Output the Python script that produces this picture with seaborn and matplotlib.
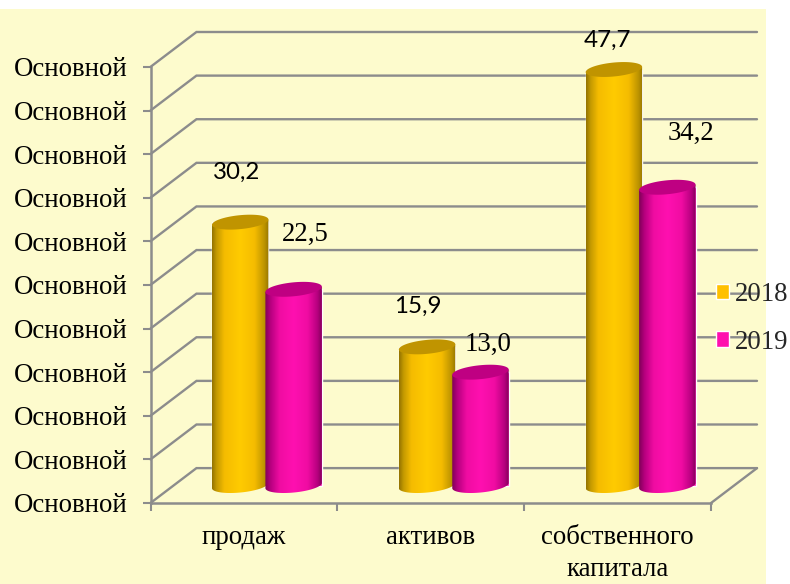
import numpy as np
import pandas as pd
import matplotlib
matplotlib.use("Agg")
import matplotlib.pyplot as plt
from matplotlib.colors import LinearSegmentedColormap
from matplotlib.patches import Polygon, Rectangle
import seaborn as sns

categories = ["продаж", "активов", "собственного\nкапитала"]
years = ["2018", "2019"]
values_2018 = [30.2, 15.9, 47.7]
values_2019 = [22.5, 13.0, 34.2]
labels_2018 = ["30,2", "15,9", "47,7"]
labels_2019 = ["22,5", "13,0", "34,2"]
tick_label = "Основной"
grid_values = list(range(0, 55, 5))

# pixel offsets of the value labels from the top of their bar
offsets_2018 = [(-4, 50), (-9, 41), (-6, 29)]
offsets_2019 = [(12, 55), (8, 28), (24, 54)]

# fake 3D depth, half of it in front of the bars, half behind
DX = 23 / 187
DY = 2.0
GRID = "#8c8c8c"
BG = "#fdfbcd"
FONT_SIZE = 19.3

sns.set_theme(style="white")
plt.rcParams["font.family"] = ["Liberation Serif", "DejaVu Sans"]

df = pd.DataFrame({
    "category": categories * 2,
    "year": [years[0]] * 3 + [years[1]] * 3,
    "value": values_2018 + values_2019,
})

fig = plt.figure(figsize=(7.9, 5.84), dpi=100, facecolor="white")
fig.patches.append(Rectangle((0, 0), 766 / 790, 575 / 584, transform=fig.transFigure,
                             facecolor=BG, edgecolor="none", zorder=-5))
ax = fig.add_axes([150.5 / 790, 81 / 584, 606.5 / 790, 471 / 584])
ax.patch.set_alpha(0)

sns.barplot(data=df, x="category", y="value", hue="year", order=categories,
            palette=["#ffc000", "#ff0fae"], width=0.572, gap=0, ax=ax, zorder=3,
            saturation=1)

# walls and floor
x_left = -0.5
x_right = 2.5
for v in grid_values:
    ax.plot([x_left - DX, x_left + DX, x_right + DX], [v - DY, v + DY, v + DY],
            color=GRID, lw=1.7, clip_on=False, zorder=1, solid_joinstyle="miter")
ax.plot([x_right - DX, x_right + DX], [-DY, DY], color=GRID, lw=1.7, clip_on=False, zorder=1)

cmaps = [
    LinearSegmentedColormap.from_list("gold", [(0, "#937300"), (0.08, "#c49a00"), (0.22, "#f5bc00"),
                                               (0.5, "#ffcb00"), (0.75, "#f5bc00"), (0.92, "#bd9400"),
                                               (1, "#977600")]),
    LinearSegmentedColormap.from_list("pink", [(0, "#800058"), (0.1, "#b80080"), (0.26, "#f00ca2"),
                                               (0.5, "#ff10b0"), (0.75, "#f00ca2"), (0.92, "#b80080"),
                                               (1, "#85005c")]),
]
cap_colors = ["#c09400", "#bf0082"]

t = np.linspace(0, 2 * np.pi, 100)
lower = np.linspace(np.pi, 2 * np.pi, 50)
ELL_B = 0.8
ELL_TILT = 0.3

for i, container in enumerate(ax.containers):
    for bar in container:
        bar.set_x(bar.get_x() - 0.008)
        bar.set_width(0.302)
        x0 = bar.get_x()
        w = bar.get_width()
        cx = x0 + w / 2
        v = bar.get_height()
        a = w / 2
        # cylinder body: straight sides closed by the lower half of an ellipse
        bottom_x = cx + a * np.cos(lower)
        bottom_y = ELL_B * np.sin(lower) + ELL_TILT * np.cos(lower)
        body = np.vstack([np.column_stack([bottom_x, bottom_y]),
                          [[x0 + w, v + ELL_TILT], [x0, v - ELL_TILT]]])
        im = ax.imshow(np.linspace(0, 1, 256)[None, :], cmap=cmaps[i], aspect="auto",
                       extent=(x0, x0 + w, -2, v + 2), zorder=4 + i)
        im.set_clip_path(Polygon(body, transform=ax.transData))
        top = np.column_stack([cx + a * np.cos(t), v + ELL_B * np.sin(t) + ELL_TILT * np.cos(t)])
        ax.add_patch(Polygon(top, facecolor=cap_colors[i], edgecolor="none", zorder=4.5 + i))

# value labels, first series in a sans font like the original
for i, (texts, offsets, family, size) in enumerate([
    (labels_2018, offsets_2018, "Lato", 17.4),
    (labels_2019, offsets_2019, "Liberation Serif", FONT_SIZE),
]):
    for bar, text, (dx, dy) in zip(ax.containers[i], texts, offsets):
        ax.annotate(text, (bar.get_x() + bar.get_width() / 2, bar.get_height()),
                    xytext=(dx * 0.72, dy * 0.72), textcoords="offset points",
                    ha="center", va="center", family=family, fontsize=size,
                    color="black", zorder=10, annotation_clip=False)

ax.set_xlim(x_left - DX, x_right + DX)
ax.set_ylim(-DY, 50 + DY)

sns.despine(ax=ax, top=True, right=True)
for side in ["left", "bottom"]:
    ax.spines[side].set_color(GRID)
    ax.spines[side].set_linewidth(1.8)
    ax.spines[side].set_zorder(2)
ax.spines["left"].set_bounds(-DY, 50 - DY)
ax.spines["bottom"].set_bounds(x_left - DX, x_right - DX)

ax.set_yticks([v - DY for v in grid_values], [tick_label] * len(grid_values))
ax.set_xticks([x - DX for x in [-0.5, 0.5, 1.5, 2.5]], [""] * 4)
ax.set_xticks([x - DX for x in range(3)], categories, minor=True)
ax.tick_params(axis="y", which="major", left=True, length=6, width=1.5, color=GRID,
               pad=10.5, labelsize=FONT_SIZE, labelcolor="black")
ax.tick_params(axis="x", which="major", bottom=True, length=6, width=1.5, color=GRID)
ax.tick_params(axis="x", which="minor", bottom=False, length=0, pad=15.5, labelsize=FONT_SIZE,
               labelcolor="black")
for label in ax.get_xticklabels(minor=True):
    label.set_linespacing(1.38)
ax.set_xlabel("")
ax.set_ylabel("")

sns.move_legend(ax, "upper left", bbox_to_anchor=(715.5 / 790, 1 - 282 / 584),
                bbox_transform=fig.transFigure, frameon=False, title=None, fontsize=FONT_SIZE,
                handlelength=0.52, handleheight=0.52, handletextpad=0.19, labelspacing=0.84,
                borderpad=0, borderaxespad=0)
ax.get_legend().set_zorder(12)

fig.savefig("out.png", dpi=100, facecolor="white")
